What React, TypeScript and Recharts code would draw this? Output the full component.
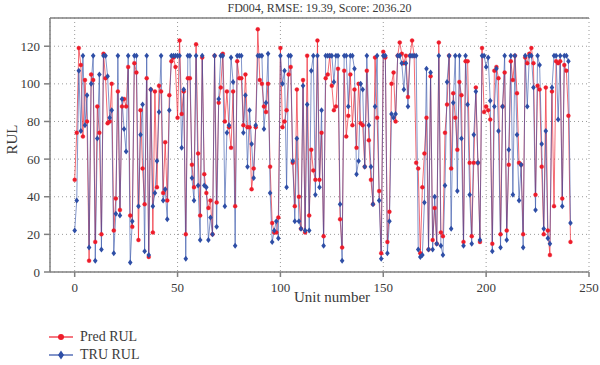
import { CartesianGrid, Line, LineChart, ReferenceLine, XAxis, YAxis } from "recharts";

// predicted RUL per test unit
const pred = [
  49, 74, 119, 110, 72, 102, 80, 6, 105, 102, 16, 88, 74, 20, 116, 103, 79, 80, 100, 22,
  39, 96, 33, 88, 92, 88, 109, 30, 24, 111, 106, 17, 86, 55, 36, 103, 8, 97, 21, 96,
  45, 99, 96, 42, 69, 38, 94, 112, 114, 109, 82, 123, 84, 96, 20, 103, 103, 57, 45, 121,
  63, 30, 114, 52, 42, 34, 38, 20, 115, 37, 90, 98, 116, 80, 96, 77, 66, 96, 35, 112,
  103, 103, 78, 105, 77, 77, 44, 55, 77, 129, 102, 100, 88, 85, 100, 56, 26, 21, 21, 29,
  119, 77, 80, 86, 105, 109, 58, 35, 97, 40, 23, 102, 21, 115, 30, 65, 54, 49, 123, 49,
  74, 19, 103, 105, 115, 99, 86, 88, 108, 28, 13, 107, 72, 83, 105, 78, 97, 66, 100, 79,
  78, 56, 107, 70, 49, 36, 114, 82, 43, 10, 117, 114, 16, 32, 100, 106, 80, 115, 122, 116,
  111, 115, 93, 115, 123, 115, 58, 55, 10, 45, 63, 82, 12, 104, 17, 34, 15, 122, 21, 19,
  74, 89, 115, 55, 95, 82, 65, 101, 94, 16, 112, 112, 58, 19, 58, 98, 58, 16, 119, 85,
  88, 86, 81, 15, 107, 109, 103, 20, 88, 106, 22, 57, 112, 102, 115, 95, 58, 57, 20, 114,
  111, 116, 119, 111, 41, 99, 97, 56, 20, 98, 22, 9, 96, 35, 112, 111, 112, 39, 110, 107,
  83, 16,
];

// true RUL per test unit
const tru = [
  22, 38, 107, 75, 115, 78, 94, 13, 100, 115, 6, 71, 105, 12, 115, 115, 104, 82, 86, 10,
  31, 115, 30, 92, 76, 64, 115, 5, 27, 115, 115, 35, 73, 89, 11, 115, 9, 97, 35, 42,
  59, 85, 115, 38, 44, 28, 86, 115, 115, 115, 115, 115, 66, 97, 7, 115, 115, 50, 38, 115,
  46, 17, 115, 46, 45, 17, 29, 20, 115, 24, 92, 115, 115, 35, 74, 78, 114, 101, 14, 115,
  115, 115, 74, 94, 56, 86, 68, 50, 78, 115, 115, 115, 76, 90, 116, 42, 16, 22, 27, 18,
  115, 100, 107, 45, 115, 115, 59, 27, 71, 27, 23, 99, 22, 89, 22, 107, 115, 41, 115, 45,
  86, 14, 115, 115, 115, 115, 101, 115, 115, 36, 6, 115, 115, 88, 115, 115, 108, 52, 59, 100,
  97, 56, 115, 78, 56, 36, 88, 115, 38, 7, 115, 115, 10, 27, 84, 82, 84, 115, 115, 111,
  97, 111, 88, 115, 115, 115, 115, 12, 8, 9, 37, 108, 12, 106, 12, 40, 15, 115, 14, 9,
  46, 101, 115, 23, 90, 115, 43, 115, 71, 14, 115, 89, 41, 15, 73, 96, 58, 17, 115, 115,
  109, 114, 91, 11, 88, 108, 75, 13, 88, 115, 17, 65, 115, 41, 115, 73, 38, 57, 13, 115,
  88, 115, 115, 98, 33, 115, 110, 68, 23, 75, 18, 15, 98, 115, 115, 81, 115, 35, 115, 115,
  112, 26,
];

const xTicks = [0, 50, 100, 150, 200, 250];
const yTicks = [0, 20, 40, 60, 80, 100, 120];

const data = pred.map((p, i) => ({ unit: i, pred: p, tru: tru[i] }));

const RED = "#ee1c2a";
const BLUE = "#2e4ea6";
const TEXT = "#3a3a3a";
const AXIS = "#808080";

function Diamond(props: any) {
  const { cx, cy, index } = props;
  if (cx == null || cy == null) return <g key={index} />;
  return (
    <polygon
      key={index}
      points={`${cx},${cy - 3} ${cx + 2.3},${cy} ${cx},${cy + 3} ${cx - 2.3},${cy}`}
      fill={BLUE}
    />
  );
}

export default function App() {
  const font = '"Liberation Serif", "Times New Roman", serif';
  return (
    <div
      style={{
        position: "absolute",
        left: 0,
        top: 0,
        width: 600,
        height: 365,
        overflow: "hidden",
        background: "#fff",
        fontFamily: font,
        color: TEXT,
      }}
    >
      <div
        style={{
          position: "absolute",
          left: 50,
          width: 539,
          top: 1,
          textAlign: "center",
          fontSize: 12,
          lineHeight: "15px",
        }}
      >
        FD004, RMSE: 19.39, Score: 2036.20
      </div>

      <LineChart
        width={620}
        height={300}
        data={data}
        margin={{ top: 18, right: 31, left: 0, bottom: 0 }}
      >
        <CartesianGrid stroke="#9a9a9a" strokeDasharray="1 3" />
        <XAxis
          dataKey="unit"
          type="number"
          domain={[-12, 250]}
          ticks={xTicks}
          allowDataOverflow
          height={28}
          tickSize={5}
          tickMargin={6}
          stroke={AXIS}
          strokeWidth={1.5}
          tick={{ fill: TEXT, fontSize: 13, fontFamily: font }}
        />
        <YAxis
          type="number"
          domain={[0, 135]}
          ticks={yTicks}
          allowDataOverflow
          width={50}
          tickSize={6}
          tickMargin={4}
          stroke={AXIS}
          strokeWidth={1.5}
          tick={{ fill: TEXT, fontSize: 13, fontFamily: font }}
        />
        <ReferenceLine y={135} stroke={AXIS} strokeWidth={1.5} />
        <Line
          dataKey="pred"
          stroke={RED}
          strokeOpacity={0.65}
          strokeWidth={1}
          dot={{ r: 2, fill: RED, stroke: RED, strokeWidth: 0.5 }}
          isAnimationActive={false}
        />
        <Line
          dataKey="tru"
          stroke={BLUE}
          strokeOpacity={0.6}
          strokeWidth={1}
          dot={Diamond}
          isAnimationActive={false}
        />
      </LineChart>

      <div
        style={{
          position: "absolute",
          left: 282,
          top: 289,
          width: 100,
          textAlign: "center",
          fontSize: 15,
        }}
      >
        Unit number
      </div>
      <div
        style={{
          position: "absolute",
          left: -8,
          top: 131,
          width: 40,
          textAlign: "center",
          fontSize: 15,
          transform: "rotate(-90deg)",
        }}
      >
        RUL
      </div>

      <div style={{ position: "absolute", left: 48, top: 328, fontSize: 14 }}>
        <div style={{ display: "flex", alignItems: "center", height: 18 }}>
          <svg width={26} height={10}>
            <line x1={1} y1={5} x2={25} y2={5} stroke={RED} strokeWidth={1.2} />
            <circle cx={13} cy={5} r={3} fill={RED} />
          </svg>
          <span style={{ marginLeft: 6 }}>Pred RUL</span>
        </div>
        <div style={{ display: "flex", alignItems: "center", height: 18 }}>
          <svg width={26} height={10}>
            <line x1={1} y1={5} x2={25} y2={5} stroke={BLUE} strokeWidth={1.2} />
            <polygon points="13,0.5 16,5 13,9.5 10,5" fill={BLUE} />
          </svg>
          <span style={{ marginLeft: 6 }}>TRU RUL</span>
        </div>
      </div>
    </div>
  );
}
